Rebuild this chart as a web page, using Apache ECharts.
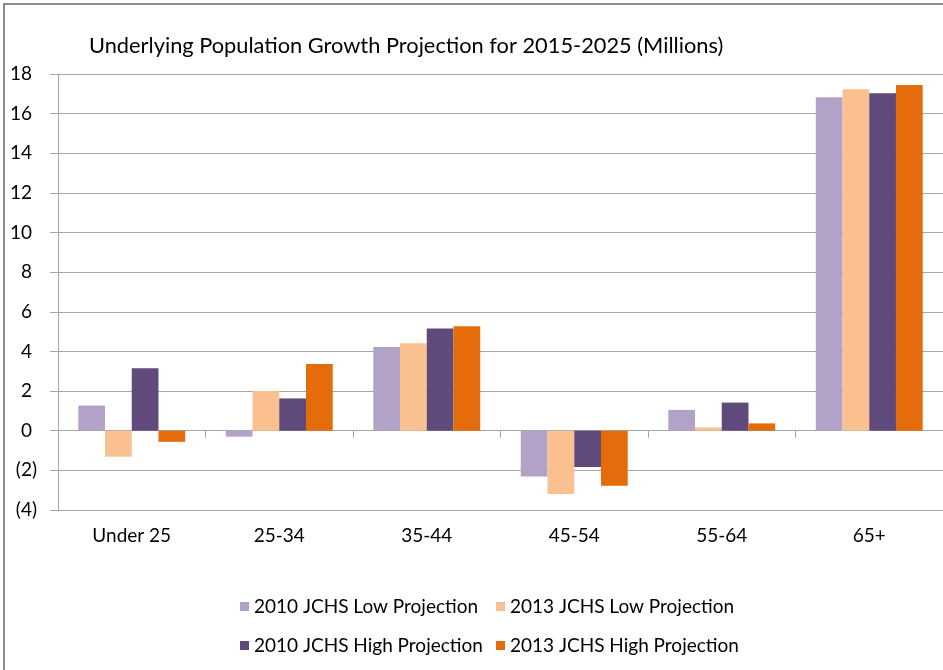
<!DOCTYPE html>
<html>
<head>
<meta charset="utf-8">
<script src="https://cdn.jsdelivr.net/npm/echarts@6/dist/echarts.min.js"></script>
<style>
  html, body { margin: 0; padding: 0; background: #fff; }
  #chart { width: 943px; height: 670px; }
</style>
</head>
<body>
<div id="chart"></div>
<script>
// age groups
var categories = ['Under 25', '25-34', '35-44', '45-54', '55-64', '65+'];
var seriesNames = ['2010 JCHS Low Projection', '2013 JCHS Low Projection',
                   '2010 JCHS High Projection', '2013 JCHS High Projection'];
// growth, millions
var low2010  = [1.27, -0.30, 4.22, -2.31, 1.05, 16.83];
var low2013  = [-1.31, 2.00, 4.42, -3.19, 0.17, 17.23];
var high2010 = [3.15, 1.63, 5.16, -1.83, 1.42, 17.03];
var high2013 = [-0.56, 3.37, 5.27, -2.78, 0.37, 17.45];
var colors = ['#b3a2c7', '#fac090', '#604a7b', '#e46c0a'];

var font = 'Lato, "Open Sans", sans-serif';
var myChart = echarts.init(document.getElementById('chart'));

function mkSeries(name, values, idx) {
    return {
        name: name,
        type: 'bar',
        data: values,
        barGap: '0%',
        barCategoryGap: '27.5%',
        itemStyle: { color: colors[idx] },
        emphasis: { disabled: true }
    };
}

function mkLegend(i, left, top) {
    return {
        data: [seriesNames[i]],
        left: left,
        top: top,
        itemWidth: 9,
        itemHeight: 9,
        itemGap: 6,
        icon: 'rect',
        textStyle: { fontFamily: font, fontSize: 19, color: '#000' }
    };
}

var option = {
    animation: false,
    color: colors,
    title: {
        text: 'Underlying Population Growth Projection for 2015-2025 (Millions)',
        left: 84,
        top: 30,
        textStyle: { fontFamily: font, fontSize: 21.8, fontWeight: 'normal', color: '#000' }
    },
    legend: [
        mkLegend(0, 235, 592),
        mkLegend(1, 491, 592),
        mkLegend(2, 235, 631),
        mkLegend(3, 491, 631)
    ],
    grid: { left: 58, top: 74, right: 0, bottom: 160 },
    xAxis: [{
        type: 'category',
        data: categories,
        position: 'bottom',
        axisLine: { show: false, onZero: false },
        axisTick: { show: false },
        axisLabel: { margin: 16, fontFamily: font, fontSize: 19, color: '#000' }
    }, {
        type: 'category',
        data: categories,
        position: 'bottom',
        axisLine: { show: true, onZero: true, lineStyle: { color: '#a6a6a6', width: 1 } },
        axisTick: { show: true, length: 7, lineStyle: { color: '#a6a6a6' } },
        axisLabel: { show: false }
    }],
    yAxis: {
        type: 'value',
        min: -4,
        max: 18,
        interval: 2,
        axisLine: { show: true, lineStyle: { color: '#a6a6a6', width: 1 } },
        axisTick: { show: true, length: 8, lineStyle: { color: '#a6a6a6' } },
        splitLine: { show: true, lineStyle: { color: '#a6a6a6', width: 1 } },
        axisLabel: {
            margin: 21,
            fontFamily: font,
            fontSize: 19,
            color: '#000',
            formatter: function (v) {
                return v < 0 ? '(' + (-v) + ')' : v + ' ';
            }
        }
    },
    graphic: [{
        type: 'polyline',
        shape: { points: [[4, 670], [4, 4], [943, 4]] },
        style: { stroke: '#8c8c8c', lineWidth: 2, fill: null }
    }],
    series: [
        mkSeries(seriesNames[0], low2010, 0),
        mkSeries(seriesNames[1], low2013, 1),
        mkSeries(seriesNames[2], high2010, 2),
        mkSeries(seriesNames[3], high2013, 3)
    ]
};

myChart.setOption(option, true);
</script>
</body>
</html>
